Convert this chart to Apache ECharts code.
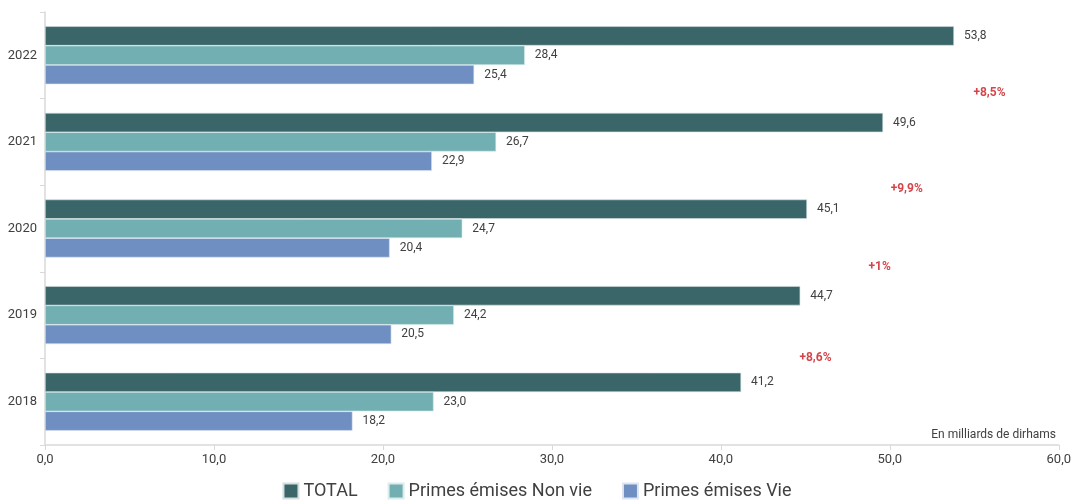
<!DOCTYPE html>
<html>
<head>
<meta charset="utf-8">
<script src="https://cdn.jsdelivr.net/npm/echarts@6/dist/echarts.min.js"></script>
<style>html,body{margin:0;padding:0;background:#fff}#c{width:1074px;height:502px}</style>
</head>
<body>
<div id="c"></div>
<script>
const categories = ['2018', '2019', '2020', '2021', '2022'];
const total = [41.2, 44.7, 45.1, 49.6, 53.8];
const nonVie = [23.0, 24.2, 24.7, 26.7, 28.4];
const vie = [18.2, 20.5, 20.4, 22.9, 25.4];
const growthLabels = ['+8,6%', '+1%', '+9,9%', '+8,5%'];
const growthX = [45.6, 49.4, 51.0, 55.9];
const growthY = [0.5, 1.55, 2.46, 3.57];

const FONT = 'Roboto';
const fmt = v => v.toFixed(1).replace('.', ',');
const chart = echarts.init(document.getElementById('c'));
const barLabel = {
  show: true, position: 'right', distance: 10,
  color: '#404040', fontSize: 12, fontFamily: FONT,
  formatter: p => fmt(p.value)
};
chart.setOption({
  animation: false,
  textStyle: { fontFamily: FONT },
  grid: { left: 45, right: 13, top: 12, bottom: 57, containLabel: false },
  legend: {
    bottom: -3, left: 'center', itemWidth: 15, itemHeight: 15, itemGap: 30,
    icon: 'rect',
    textStyle: { fontSize: 18, color: '#404040', fontFamily: FONT },
    data: ['TOTAL', 'Primes émises Non vie', 'Primes émises Vie']
  },
  title: {
    text: 'En milliards de dirhams', right: 13, top: 424,
    textStyle: { fontSize: 12, fontWeight: 'normal', color: '#404040', fontFamily: FONT }
  },
  xAxis: {
    type: 'value', min: 0, max: 60, interval: 10,
    axisLine: { show: true, onZero: false, lineStyle: { color: '#d9d9d9', width: 1.5 } },
    axisTick: { show: true, length: 5, lineStyle: { color: '#d9d9d9' } },
    splitLine: { show: false },
    axisLabel: { color: '#404040', fontSize: 13, margin: 8, formatter: v => fmt(v) }
  },
  yAxis: [{
    type: 'category', data: categories,
    axisLine: { show: true, lineStyle: { color: '#d9d9d9', width: 1.5 } },
    axisTick: { show: true, length: 5, lineStyle: { color: '#d9d9d9' } },
    axisLabel: { color: '#404040', fontSize: 13, margin: 8 }
  }, {
    type: 'value', min: -0.5, max: 4.5, show: false
  }],
  series: [
    { name: 'TOTAL', type: 'bar', data: total, barGap: '0%', barCategoryGap: '33%',
      itemStyle: { color: '#3a6569', borderColor: '#d4e0e0', borderWidth: 0.6 }, label: barLabel },
    { name: 'Primes émises Non vie', type: 'bar', data: nonVie, barGap: '0%', barCategoryGap: '33%',
      itemStyle: { color: '#72afb3', borderColor: '#dcecec', borderWidth: 0.6 }, label: barLabel },
    { name: 'Primes émises Vie', type: 'bar', data: vie, barGap: '0%', barCategoryGap: '33%',
      itemStyle: { color: '#6f8fc3', borderColor: '#dde6f0', borderWidth: 0.6 }, label: barLabel },
    { name: 'growth', type: 'scatter', yAxisIndex: 1, symbolSize: 0,
      itemStyle: { color: 'rgba(0,0,0,0)' },
      data: growthX.map((x, i) => [x, growthY[i], growthLabels[i]]),
      label: { show: true, position: 'inside', color: '#c8161d', fontWeight: 'bold', fontSize: 12,
        formatter: p => p.value[2] }
    }
  ]
});
</script>
</body>
</html>
